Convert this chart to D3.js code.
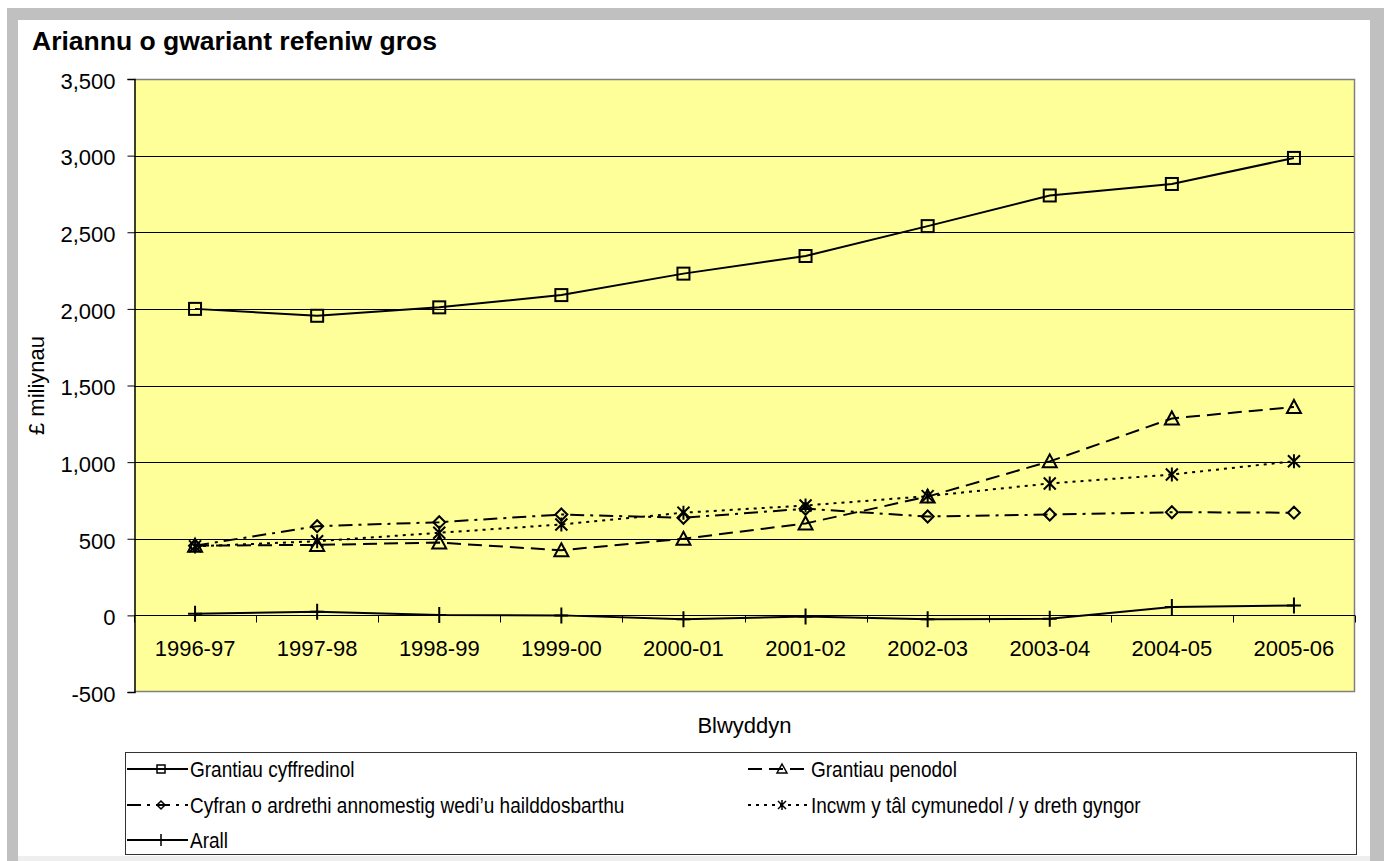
<!DOCTYPE html>
<html>
<head>
<meta charset="utf-8">
<script src="https://cdn.jsdelivr.net/npm/d3@7/dist/d3.min.js"></script>
<style>
  html, body { margin: 0; padding: 0; background: #ffffff; }
  svg { display: block; font-family: "Liberation Sans", Arial, sans-serif; }
</style>
</head>
<body>
<svg id="chart" width="1384" height="861"></svg>
<script>
const categories = ["1996-97","1997-98","1998-99","1999-00","2000-01","2001-02","2002-03","2003-04","2004-05","2005-06"];
const grantiauCyffredinol = [2000, 1955, 2010, 2090, 2230, 2345, 2540, 2740, 2815, 2985];
const grantiauPenodol     = [455, 460, 475, 425, 500, 600, 775, 1005, 1285, 1360];
const cyfranArdrethi      = [455, 582, 608, 658, 637, 696, 645, 658, 673, 670];
const incwmTal            = [450, 484, 539, 593, 670, 717, 778, 861, 919, 1006];
const arall               = [11, 24, 2, 0, -26, -8, -26, -22, 54, 65];
const yTicks = [-500, 0, 500, 1000, 1500, 2000, 2500, 3000, 3500];
const seriesNames = [
  "Grantiau cyffredinol",
  "Grantiau penodol",
  "Cyfran o ardrethi annomestig wedi\u2019u hailddosbarthu",
  "Incwm y tâl cymunedol / y dreth gyngor",
  "Arall"
];
const titleText = "Ariannu o gwariant refeniw gros";
const yLabel = "£ miliynau";
const xLabel = "Blwyddyn";

const series = [
  { name: seriesNames[0], values: grantiauCyffredinol, marker: "square",   dash: null },
  { name: seriesNames[1], values: grantiauPenodol,     marker: "triangle", dash: "14,7" },
  { name: seriesNames[2], values: cyfranArdrethi,      marker: "diamond",  dash: "14,6,3,6" },
  { name: seriesNames[3], values: incwmTal,            marker: "asterisk", dash: "3,5" },
  { name: seriesNames[4], values: arall,               marker: "plus",     dash: null }
];

const svg = d3.select("#chart");

// outer frame
svg.append("rect").attr("x", 7).attr("y", 8).attr("width", 1377).attr("height", 853).attr("fill", "#c0c0c0");
svg.append("rect").attr("x", 18).attr("y", 20).attr("width", 1352).attr("height", 836).attr("fill", "#ffffff");
svg.append("rect").attr("x", 18).attr("y", 856).attr("width", 1352).attr("height", 5).attr("fill", "#eeeeee");

const plot = { left: 134, right: 1355, top: 79, bottom: 692 };

const x = d3.scaleBand().domain(categories).range([plot.left, plot.right]).padding(0);
const y = d3.scaleLinear().domain([-500, 3500]).range([plot.bottom, plot.top]);
const cx = d => x(d) + x.bandwidth() / 2;

// plot background
svg.append("rect")
  .attr("x", plot.left).attr("y", plot.top)
  .attr("width", plot.right - plot.left).attr("height", plot.bottom - plot.top)
  .attr("fill", "#ffff99");

// gridlines
svg.append("g").selectAll("line").data(yTicks.filter(t => t !== -500 && t !== 3500)).join("line")
  .attr("x1", plot.left).attr("x2", plot.right)
  .attr("y1", d => Math.round(y(d)) + 0.5).attr("y2", d => Math.round(y(d)) + 0.5)
  .attr("stroke", "#000").attr("stroke-width", 1);

// plot border (top/right/bottom gray)
svg.append("path")
  .attr("d", `M${plot.left},${plot.top + 0.5}H${plot.right - 0.5}V${plot.bottom - 0.5}H${plot.left}`)
  .attr("fill", "none").attr("stroke", "#808080").attr("stroke-width", 1.5);

// y axis
const fmt = d3.format(",");
const yAxis = d3.axisLeft(y).tickValues(yTicks).tickSize(7).tickPadding(12)
  .tickFormat(d => fmt(d).replace("\u2212", "-"));
const gy = svg.append("g").attr("transform", `translate(${plot.left + 0.5},0)`).call(yAxis);
gy.select(".domain").attr("stroke", "#000").attr("stroke-width", 1.5);
gy.selectAll(".tick line").attr("stroke", "#000");
gy.selectAll(".tick text").attr("font-size", 22).attr("font-family", "Liberation Sans, Arial, sans-serif")
  .attr("fill", "#000").attr("dy", "0.42em");

// x axis at zero
const zeroY = Math.round(y(0)) + 0.5;
svg.append("line").attr("x1", plot.left).attr("x2", plot.right).attr("y1", zeroY).attr("y2", zeroY)
  .attr("stroke", "#000").attr("stroke-width", 1.2);
const boundaries = categories.map(c => x(c)).concat([plot.right]);
svg.append("g").selectAll("line").data(boundaries).join("line")
  .attr("x1", d => Math.round(d) + 0.5).attr("x2", d => Math.round(d) + 0.5)
  .attr("y1", zeroY).attr("y2", zeroY + 7)
  .attr("stroke", "#000").attr("stroke-width", 1);
svg.append("g").selectAll("text").data(categories).join("text")
  .attr("x", d => cx(d)).attr("y", 656)
  .attr("text-anchor", "middle").attr("font-size", 22).attr("fill", "#000")
  .text(d => d);

// marker drawing
function drawMarker(g, type, px, py, s) {
  const h = s / 2;
  const common = sel => sel.attr("fill", "none").attr("stroke", "#000").attr("stroke-width", 2);
  if (type === "square") {
    common(g.append("rect").attr("x", px - h).attr("y", py - h).attr("width", s).attr("height", s));
  } else if (type === "triangle") {
    common(g.append("path").attr("d", `M${px},${py - h - 1}L${px + h + 1},${py + h}L${px - h - 1},${py + h}Z`));
  } else if (type === "diamond") {
    common(g.append("path").attr("d", `M${px},${py - h}L${px + h},${py}L${px},${py + h}L${px - h},${py}Z`));
  } else if (type === "asterisk") {
    common(g.append("path").attr("d",
      `M${px - h},${py - h}L${px + h},${py + h}M${px - h},${py + h}L${px + h},${py - h}M${px},${py - h - 1}L${px},${py + h + 1}`));
  } else if (type === "plus") {
    common(g.append("path").attr("d", `M${px - h - 1},${py}L${px + h + 1},${py}M${px},${py - h - 2}L${px},${py + h + 2}`));
  }
}

// lines
const line = d3.line().x((d, i) => cx(categories[i])).y(d => y(d));
series.forEach(s => {
  const p = svg.append("path").datum(s.values)
    .attr("d", line).attr("fill", "none").attr("stroke", "#000").attr("stroke-width", 2);
  if (s.dash) p.attr("stroke-dasharray", s.dash);
});
series.forEach(s => {
  const g = svg.append("g");
  s.values.forEach((v, i) => drawMarker(g, s.marker, cx(categories[i]), y(v), 12));
});

// title and axis labels
svg.append("text").attr("x", 32).attr("y", 50).attr("font-size", 26.5).attr("font-weight", "bold")
  .attr("fill", "#000").text(titleText);
svg.append("text").attr("transform", `translate(44,${(plot.top + plot.bottom) / 2}) rotate(-90)`)
  .attr("text-anchor", "middle").attr("font-size", 22).attr("fill", "#000").text(yLabel);
svg.append("text").attr("x", (plot.left + plot.right) / 2).attr("y", 733)
  .attr("text-anchor", "middle").attr("font-size", 22).attr("fill", "#000").text(xLabel);

// legend
svg.append("rect").attr("x", 125.5).attr("y", 752.5).attr("width", 1231).attr("height", 102)
  .attr("fill", "#fff").attr("stroke", "#333").attr("stroke-width", 1);
const legendPos = [
  { lx: 127, ly: 769 }, { lx: 748, ly: 769 },
  { lx: 127, ly: 805 }, { lx: 748, ly: 805 },
  { lx: 127, ly: 840 }
];
series.forEach((s, i) => {
  const p = legendPos[i];
  const g = svg.append("g");
  const ln = g.append("line").attr("x1", p.lx).attr("x2", p.lx + 61).attr("y1", p.ly).attr("y2", p.ly)
    .attr("stroke", "#000").attr("stroke-width", 2);
  if (s.dash) ln.attr("stroke-dasharray", s.dash);
  drawMarker(g, s.marker, p.lx + 34, p.ly, 8);
  g.selectAll("path,rect").attr("stroke-width", 1.5);
  g.select("line").attr("stroke-width", 2);
  g.append("text").attr("transform", `translate(${p.lx + 63},${p.ly + 8}) scale(0.865,1)`)
    .attr("font-size", 22).attr("fill", "#000").text(s.name);
});
</script>
</body>
</html>
